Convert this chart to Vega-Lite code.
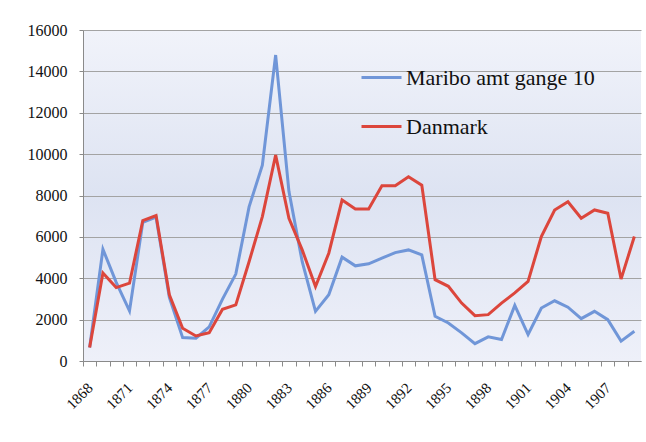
{
  "$schema": "https://vega.github.io/schema/vega-lite/v6.json",
  "width": 558,
  "height": 331,
  "autosize": {"type": "none"},
  "padding": {"left": 83, "top": 30, "right": 5, "bottom": 81},
  "background": "white",
  "config": {
    "font": "Liberation Serif",
    "view": {
      "stroke": null,
      "fill": {"gradient": "linear", "x1": 0, "y1": 0, "x2": 0, "y2": 1,
        "stops": [{"offset": 0, "color": "#f1f3fa"}, {"offset": 0.5, "color": "#dde3f2"}, {"offset": 1, "color": "#eef0f9"}]}
    },
    "axis": {"labelFont": "Liberation Serif", "labelColor": "#111", "titleFont": "Liberation Serif"},
    "legend": {"labelFont": "Liberation Serif"}
  },
  "data": {
    "values": [
      {"year": 1868, "Maribo amt gange 10": 650, "Danmark": 650},
      {"year": 1869, "Maribo amt gange 10": 5400, "Danmark": 4250},
      {"year": 1870, "Maribo amt gange 10": 3800, "Danmark": 3550},
      {"year": 1871, "Maribo amt gange 10": 2420, "Danmark": 3760},
      {"year": 1872, "Maribo amt gange 10": 6700, "Danmark": 6790},
      {"year": 1873, "Maribo amt gange 10": 6950, "Danmark": 7030},
      {"year": 1874, "Maribo amt gange 10": 3070, "Danmark": 3200},
      {"year": 1875, "Maribo amt gange 10": 1130, "Danmark": 1580},
      {"year": 1876, "Maribo amt gange 10": 1100, "Danmark": 1210},
      {"year": 1877, "Maribo amt gange 10": 1650, "Danmark": 1370},
      {"year": 1878, "Maribo amt gange 10": 2990, "Danmark": 2500},
      {"year": 1879, "Maribo amt gange 10": 4200, "Danmark": 2710},
      {"year": 1880, "Maribo amt gange 10": 7450, "Danmark": 4800},
      {"year": 1881, "Maribo amt gange 10": 9470, "Danmark": 6980},
      {"year": 1882, "Maribo amt gange 10": 14790, "Danmark": 9950},
      {"year": 1883, "Maribo amt gange 10": 8200, "Danmark": 6900},
      {"year": 1884, "Maribo amt gange 10": 4800, "Danmark": 5370},
      {"year": 1885, "Maribo amt gange 10": 2400, "Danmark": 3600},
      {"year": 1886, "Maribo amt gange 10": 3200, "Danmark": 5210},
      {"year": 1887, "Maribo amt gange 10": 5020, "Danmark": 7780},
      {"year": 1888, "Maribo amt gange 10": 4600, "Danmark": 7350},
      {"year": 1889, "Maribo amt gange 10": 4700, "Danmark": 7350},
      {"year": 1890, "Maribo amt gange 10": 4970, "Danmark": 8470},
      {"year": 1891, "Maribo amt gange 10": 5240, "Danmark": 8470},
      {"year": 1892, "Maribo amt gange 10": 5370, "Danmark": 8910},
      {"year": 1893, "Maribo amt gange 10": 5130, "Danmark": 8500},
      {"year": 1894, "Maribo amt gange 10": 2160, "Danmark": 3930},
      {"year": 1895, "Maribo amt gange 10": 1840, "Danmark": 3610},
      {"year": 1896, "Maribo amt gange 10": 1360, "Danmark": 2800},
      {"year": 1897, "Maribo amt gange 10": 840, "Danmark": 2190},
      {"year": 1898, "Maribo amt gange 10": 1170, "Danmark": 2240},
      {"year": 1899, "Maribo amt gange 10": 1040, "Danmark": 2800},
      {"year": 1900, "Maribo amt gange 10": 2690, "Danmark": 3290},
      {"year": 1901, "Maribo amt gange 10": 1280, "Danmark": 3850},
      {"year": 1902, "Maribo amt gange 10": 2560, "Danmark": 6020},
      {"year": 1903, "Maribo amt gange 10": 2910, "Danmark": 7300},
      {"year": 1904, "Maribo amt gange 10": 2600, "Danmark": 7700},
      {"year": 1905, "Maribo amt gange 10": 2050, "Danmark": 6900},
      {"year": 1906, "Maribo amt gange 10": 2400, "Danmark": 7300},
      {"year": 1907, "Maribo amt gange 10": 2000, "Danmark": 7140},
      {"year": 1908, "Maribo amt gange 10": 960, "Danmark": 3960},
      {"year": 1909, "Maribo amt gange 10": 1440, "Danmark": 6020}
    ]
  },
  "transform": [{"fold": ["Maribo amt gange 10", "Danmark"], "as": ["series", "value"]}],
  "mark": {"type": "line", "strokeWidth": 3, "clip": false},
  "encoding": {
    "x": {
      "field": "year", "type": "quantitative",
      "scale": {"domain": [1867.5, 1909.5], "nice": false, "zero": false},
      "axis": {
        "title": null, "grid": false, "orient": "bottom",
        "values": [1868,1869,1870,1871,1872,1873,1874,1875,1876,1877,1878,1879,1880,1881,1882,1883,1884,1885,1886,1887,1888,1889,1890,1891,1892,1893,1894,1895,1896,1897,1898,1899,1900,1901,1902,1903,1904,1905,1906,1907,1908,1909],
        "labelExpr": "(datum.value - 1868) % 3 == 0 ? datum.label : ''",
        "format": "d", "labelOverlap": false, "labelFlush": false,
        "tickOffset": -6.643, "labelOffset": 6.643,
        "tickSize": 5, "tickColor": "#8a8a8a", "domainColor": "#8a8a8a", "tickWidth": 1,
        "labelAngle": -45, "labelAlign": "right", "labelBaseline": "middle",
        "labelFont": "Liberation Serif", "labelFontSize": 15, "labelPadding": 19
      }
    },
    "y": {
      "field": "value", "type": "quantitative",
      "scale": {"domain": [0, 16000], "nice": false},
      "axis": {
        "title": null, "values": [0,2000,4000,6000,8000,10000,12000,14000,16000],
        "format": "d", "labelFont": "Liberation Serif", "labelFontSize": 16, "tickSize": 4, "labelPadding": 12,
        "tickColor": "#8a8a8a", "domainColor": "#8a8a8a",
        "gridColor": "#a3a3a3", "gridWidth": 1
      }
    },
    "color": {
      "field": "series", "type": "nominal",
      "scale": {"domain": ["Maribo amt gange 10", "Danmark"], "range": ["#7096d8", "#dc463c"]},
      "legend": {
        "title": null, "orient": "none", "legendX": 277, "legendY": 26,
        "symbolType": "stroke", "symbolSize": 1600, "symbolStrokeWidth": 3,
        "labelFont": "Liberation Serif", "labelFontSize": 22, "labelColor": "#111",
        "labelOffset": 3, "rowPadding": 16, "padding": 0, "labelLimit": 400
      }
    }
  }
}
